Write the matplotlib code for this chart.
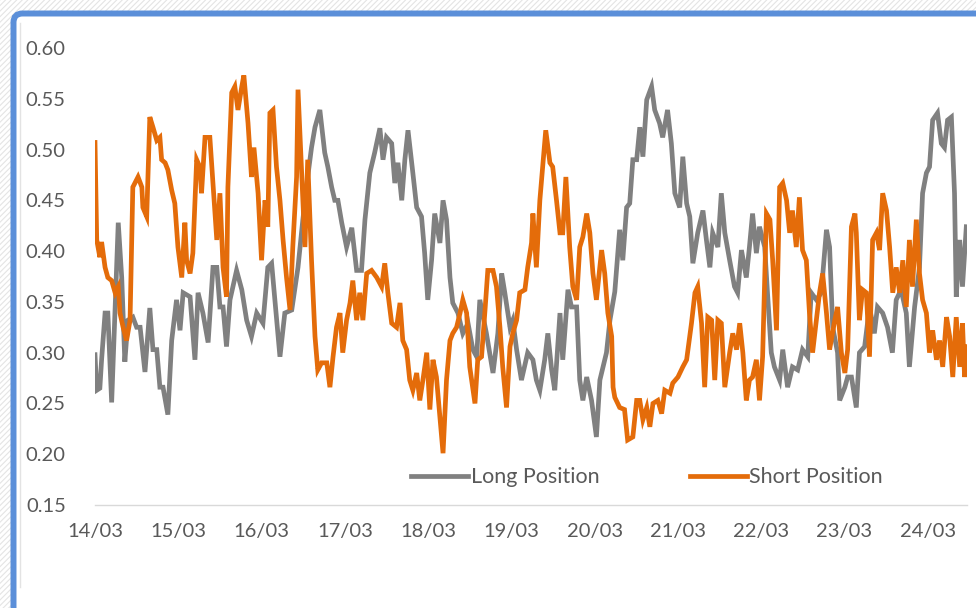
import matplotlib
matplotlib.use('Agg')
import matplotlib.pyplot as plt
from matplotlib.patches import Rectangle, FancyBboxPatch
from matplotlib.lines import Line2D
from matplotlib.transforms import IdentityTransform

# Hours since 14/03 00:00
long_hours = [0, 0.5, 1.4, 1.9, 2.9, 3.7, 4.8, 6.7, 7.7, 8.6, 9.5, 10.9, 12.0, 13.0, 14.4, 15.8, 16.7, 17.8,
              18.7, 19.6, 21.0, 22.1, 23.5, 24.5, 25.4, 27.4, 28.8, 29.7, 31.1, 32.6, 34.0, 35.1, 36.0, 36.9,
              37.9, 38.9, 40.8, 42.3, 43.7, 45.1, 46.6, 48.4, 49.8, 50.9, 53.3, 54.7, 56.7, 58.5, 59.9, 61.3,
              62.4, 63.4, 64.8, 66.2, 67.1, 68.2, 69.1, 70.0, 71.1, 72.5, 74.0, 75.4, 76.8, 77.8, 79.2, 80.6,
              82.1, 83.0, 84.0, 85.5, 86.4, 87.3, 88.4, 89.3, 90.2, 91.6, 92.7, 94.1, 95.0, 95.9, 97.0, 97.9,
              99.4, 100.3, 101.3, 102.3, 103.1, 104.6, 106.0, 107.5, 108.9, 110.0, 110.9, 112.8, 114.7, 116.1,
              117.2, 118.1, 119.6, 120.4, 121.5, 122.9, 124.7, 126.2, 127.2, 128.2, 129.6, 130.5, 131.6, 132.5,
              134.0, 134.8, 136.3, 137.3, 138.8, 139.7, 140.6, 141.7, 143.1, 144.5, 145.5, 146.4, 147.4, 148.4,
              149.8, 151.2, 152.1, 153.2, 154.1, 155.0, 156.1, 157.0, 157.9, 159.0, 160.4, 161.3, 162.7, 163.6,
              165.0, 166.1, 167.1, 168.5, 169.4, 170.5, 171.4, 172.3, 173.7, 175.2, 176.2, 177.2, 178.0, 179.5,
              180.5, 181.5, 182.9, 184.3, 185.2, 186.3, 187.7, 188.6, 189.5, 190.6, 191.5, 193.0, 193.8, 194.9,
              195.8, 197.3, 198.2, 199.6, 201.0, 202.5, 203.9, 205.4, 206.4, 207.9, 209.3, 210.8, 211.7, 212.6,
              214.0, 214.6, 216.1, 216.9, 218.0, 219.4, 220.3, 221.8, 223.2, 224.6, 225.5, 227.0, 228.4, 229.8,
              230.9, 232.3, 233.8, 234.7, 236.2, 237.6, 238.5, 239.6, 240.5, 241.4, 242.8, 243.9, 244.8, 245.7,
              246.8, 247.7, 248.2, 249.2, 250.0, 251.1]
long_values = [0.298, 0.263, 0.265, 0.293, 0.339, 0.339, 0.251, 0.428, 0.374, 0.291, 0.332, 0.335, 0.325, 0.325,
               0.281, 0.344, 0.303, 0.303, 0.266, 0.266, 0.239, 0.312, 0.352, 0.322, 0.359, 0.355, 0.293, 0.359,
               0.339, 0.310, 0.384, 0.384, 0.345, 0.345, 0.306, 0.352, 0.381, 0.362, 0.332, 0.316, 0.339, 0.329,
               0.384, 0.388, 0.296, 0.339, 0.342, 0.384, 0.431, 0.473, 0.502, 0.522, 0.539, 0.497, 0.483, 0.463,
               0.450, 0.450, 0.428, 0.404, 0.423, 0.381, 0.381, 0.431, 0.477, 0.497, 0.521, 0.490, 0.512, 0.506,
               0.467, 0.487, 0.450, 0.490, 0.519, 0.477, 0.443, 0.434, 0.398, 0.352, 0.391, 0.437, 0.408, 0.450,
               0.431, 0.374, 0.349, 0.339, 0.319, 0.329, 0.303, 0.296, 0.352, 0.319, 0.280, 0.319, 0.378, 0.359,
               0.325, 0.332, 0.303, 0.273, 0.300, 0.293, 0.273, 0.263, 0.293, 0.319, 0.283, 0.263, 0.339, 0.293,
               0.362, 0.345, 0.345, 0.273, 0.253, 0.276, 0.253, 0.217, 0.273, 0.286, 0.300, 0.332, 0.360, 0.421,
               0.391, 0.443, 0.447, 0.490, 0.490, 0.522, 0.493, 0.549, 0.562, 0.539, 0.526, 0.512, 0.539, 0.506,
               0.457, 0.443, 0.493, 0.447, 0.434, 0.388, 0.418, 0.440, 0.411, 0.384, 0.418, 0.404, 0.457, 0.418,
               0.391, 0.365, 0.359, 0.401, 0.374, 0.404, 0.437, 0.398, 0.424, 0.404, 0.359, 0.300, 0.286, 0.273,
               0.303, 0.266, 0.286, 0.283, 0.303, 0.296, 0.359, 0.352, 0.359, 0.421, 0.404, 0.325, 0.300, 0.253,
               0.266, 0.276, 0.276, 0.246, 0.300, 0.306, 0.345, 0.319, 0.345, 0.339, 0.325, 0.300, 0.352, 0.362,
               0.339, 0.286, 0.345, 0.384, 0.457, 0.477, 0.483, 0.529, 0.536, 0.506, 0.502, 0.529, 0.532, 0.457,
               0.355, 0.411, 0.365, 0.424]

short_hours = [0, 0.5, 1.4, 1.9, 2.9, 3.7, 4.8, 5.8, 6.7, 7.2, 8.1, 9.1, 10.1, 10.9, 12.4, 13.5, 13.8, 14.9,
               15.8, 16.7, 17.8, 18.7, 19.2, 20.2, 21.0, 22.1, 23.0, 23.9, 25.0, 25.9, 26.4, 27.4, 28.2, 29.3,
               30.2, 30.7, 31.7, 33.1, 34.0, 35.1, 36.0, 36.9, 37.9, 38.3, 39.4, 40.3, 41.2, 42.3, 42.9, 44.1,
               45.1, 45.8, 47.0, 48.0, 49.0, 49.8, 50.4, 51.3, 52.3, 53.3, 54.2, 55.2, 56.2, 57.0, 58.1, 58.5,
               59.6, 60.5, 61.3, 62.4, 63.4, 64.2, 65.3, 66.8, 67.7, 68.6, 69.6, 70.6, 71.4, 72.5, 73.5, 74.3,
               75.4, 76.3, 77.2, 78.3, 79.7, 81.2, 82.6, 83.5, 84.4, 85.5, 86.9, 87.9, 88.7, 89.8, 90.7, 91.6,
               92.7, 93.6, 94.5, 95.6, 96.5, 97.4, 98.4, 98.8, 100.3, 101.3, 102.3, 103.1, 104.2, 105.2, 106.0,
               107.1, 108.0, 109.5, 110.3, 111.4, 112.4, 113.2, 114.7, 115.7, 116.7, 117.5, 118.6, 119.6, 120.4,
               121.5, 122.4, 123.9, 124.7, 125.8, 126.2, 127.2, 128.2, 129.1, 129.9, 131.1, 131.9, 133.0, 134.0,
               134.8, 135.7, 136.8, 137.7, 138.8, 139.7, 140.6, 141.7, 142.6, 143.5, 144.5, 146.0, 146.9, 147.8,
               148.9, 149.3, 149.8, 151.2, 152.6, 153.5, 155.0, 156.1, 157.0, 157.9, 159.0, 159.9, 160.8, 162.2,
               163.3, 164.2, 165.7, 166.5, 168.0, 169.4, 170.5, 171.9, 172.9, 173.7, 174.8, 175.7, 176.6, 177.7,
               178.6, 179.5, 180.5, 181.5, 182.9, 183.8, 184.9, 185.8, 186.7, 187.7, 188.6, 189.5, 190.6, 191.5,
               192.4, 193.5, 194.5, 195.3, 196.4, 197.3, 198.2, 199.3, 200.2, 201.0, 202.1, 203.0, 203.9, 205.0,
               205.9, 206.8, 207.9, 208.8, 209.7, 210.8, 211.7, 213.2, 214.0, 215.1, 216.1, 216.9, 218.0, 219.0,
               219.4, 220.3, 221.2, 222.3, 223.2, 224.1, 225.2, 226.1, 227.0, 228.1, 229.0, 229.9, 230.9, 231.9,
               232.8, 233.8, 234.7, 235.6, 236.7, 237.6, 238.5, 239.6, 240.5, 241.4, 242.5, 243.4, 244.3, 245.4,
               246.3, 247.2, 248.2, 249.2, 250.0, 250.6, 251.1]
short_values = [0.507, 0.411, 0.394, 0.409, 0.384, 0.374, 0.371, 0.359, 0.365, 0.339, 0.325, 0.312, 0.332, 0.463,
                0.473, 0.463, 0.443, 0.434, 0.532, 0.522, 0.509, 0.512, 0.490, 0.487, 0.480, 0.460, 0.447, 0.404,
                0.374, 0.428, 0.391, 0.378, 0.398, 0.490, 0.483, 0.457, 0.512, 0.512, 0.467, 0.411, 0.457, 0.384,
                0.355, 0.463, 0.556, 0.562, 0.539, 0.562, 0.573, 0.526, 0.473, 0.502, 0.457, 0.391, 0.450, 0.424,
                0.536, 0.539, 0.483, 0.450, 0.411, 0.374, 0.342, 0.404, 0.473, 0.559, 0.473, 0.404, 0.490, 0.391,
                0.316, 0.283, 0.290, 0.290, 0.266, 0.296, 0.325, 0.339, 0.300, 0.332, 0.349, 0.371, 0.332, 0.359,
                0.332, 0.378, 0.381, 0.374, 0.365, 0.388, 0.359, 0.329, 0.325, 0.349, 0.312, 0.303, 0.273, 0.263,
                0.280, 0.253, 0.273, 0.300, 0.244, 0.293, 0.276, 0.260, 0.201, 0.273, 0.312, 0.319, 0.325, 0.339,
                0.352, 0.339, 0.286, 0.250, 0.293, 0.296, 0.342, 0.381, 0.381, 0.365, 0.325, 0.286, 0.246, 0.306,
                0.319, 0.332, 0.359, 0.362, 0.384, 0.408, 0.437, 0.384, 0.450, 0.487, 0.519, 0.487, 0.483, 0.450,
                0.418, 0.418, 0.473, 0.404, 0.365, 0.352, 0.404, 0.414, 0.437, 0.418, 0.378, 0.352, 0.401, 0.378,
                0.339, 0.316, 0.266, 0.256, 0.246, 0.244, 0.214, 0.217, 0.253, 0.253, 0.234, 0.246, 0.227, 0.250,
                0.253, 0.240, 0.263, 0.260, 0.270, 0.276, 0.286, 0.293, 0.329, 0.359, 0.365, 0.329, 0.266, 0.335,
                0.332, 0.273, 0.332, 0.329, 0.266, 0.300, 0.319, 0.303, 0.329, 0.300, 0.253, 0.273, 0.276, 0.293,
                0.253, 0.296, 0.437, 0.431, 0.391, 0.322, 0.463, 0.467, 0.450, 0.418, 0.440, 0.404, 0.453, 0.401,
                0.391, 0.339, 0.300, 0.332, 0.359, 0.378, 0.339, 0.303, 0.332, 0.345, 0.300, 0.280, 0.303, 0.424,
                0.437, 0.418, 0.332, 0.362, 0.359, 0.296, 0.411, 0.418, 0.401, 0.457, 0.440, 0.404, 0.359, 0.384,
                0.359, 0.391, 0.345, 0.411, 0.365, 0.431, 0.378, 0.352, 0.339, 0.300, 0.322, 0.293, 0.312, 0.286,
                0.335, 0.316, 0.276, 0.335, 0.286, 0.329, 0.276, 0.306]

tick_labels = ['14/03', '15/03', '16/03', '17/03', '18/03', '19/03', '20/03', '21/03', '22/03', '23/03', '24/03']
y_ticks = [0.15, 0.20, 0.25, 0.30, 0.35, 0.40, 0.45, 0.50, 0.55, 0.60]

text_color = '#595959'
plt.rcParams['font.family'] = ['Lato', 'DejaVu Sans']
plt.rcParams['hatch.color'] = '#E4E4E4'
plt.rcParams['hatch.linewidth'] = 0.8

W, H = 976, 608
fig = plt.figure(figsize=(W / 100, H / 100), dpi=100)

# hatched surround and blue rounded frame
bg = Rectangle((0, 0), 1, 1, transform=fig.transFigure, facecolor='white',
               edgecolor='#E4E4E4', hatch='//////', linewidth=0, zorder=-3)
fig.add_artist(bg)
frame = FancyBboxPatch((13.5, -100), 1200, H - 13.5 + 100,
                       boxstyle='round,pad=0,rounding_size=9', transform=IdentityTransform(),
                       facecolor='white', edgecolor='#5B8FD9', linewidth=4.3, zorder=-2)
fig.add_artist(frame)
fig.add_artist(Line2D([20 / W, 20 / W], [1 - 23 / H, 1 - 587 / H], transform=fig.transFigure,
                      color='#E3E3E3', linewidth=1, zorder=-1))

ax = fig.add_axes([95 / W, (H - 505) / H, 872 / W, 457 / H])
ax.patch.set_alpha(0)

ax.plot(long_hours, long_values, color='#808080', linewidth=3.4, label='Long Position',
        solid_joinstyle='miter')
ax.plot(short_hours, short_values, color='#E46C0A', linewidth=3.4, label='Short Position',
        solid_joinstyle='miter')

ax.set_xlim(0, 251.3)
ax.set_ylim(0.15, 0.60)
ax.set_xticks([24 * i for i in range(len(tick_labels))])
ax.set_xticklabels(tick_labels)
ax.set_yticks(y_ticks)
ax.set_yticklabels(['%.2f' % v for v in y_ticks])

for side in ['left', 'right', 'top']:
    ax.spines[side].set_visible(False)
ax.spines['bottom'].set_color('#D9D9D9')
ax.spines['bottom'].set_linewidth(1.0)
ax.tick_params(axis='both', length=0, colors=text_color, labelsize=14.5)
ax.tick_params(axis='y', pad=21)
ax.tick_params(axis='x', pad=13)

leg = ax.legend(loc='center', bbox_to_anchor=(0.633, 0.061), ncol=2, frameon=False,
                handlelength=2.65, handletextpad=0.12, columnspacing=4.2, fontsize=15.5)
for t in leg.get_texts():
    t.set_color(text_color)
for h in leg.get_lines():
    h.set_linewidth(3.4)

fig.savefig('out.png', dpi=100)
